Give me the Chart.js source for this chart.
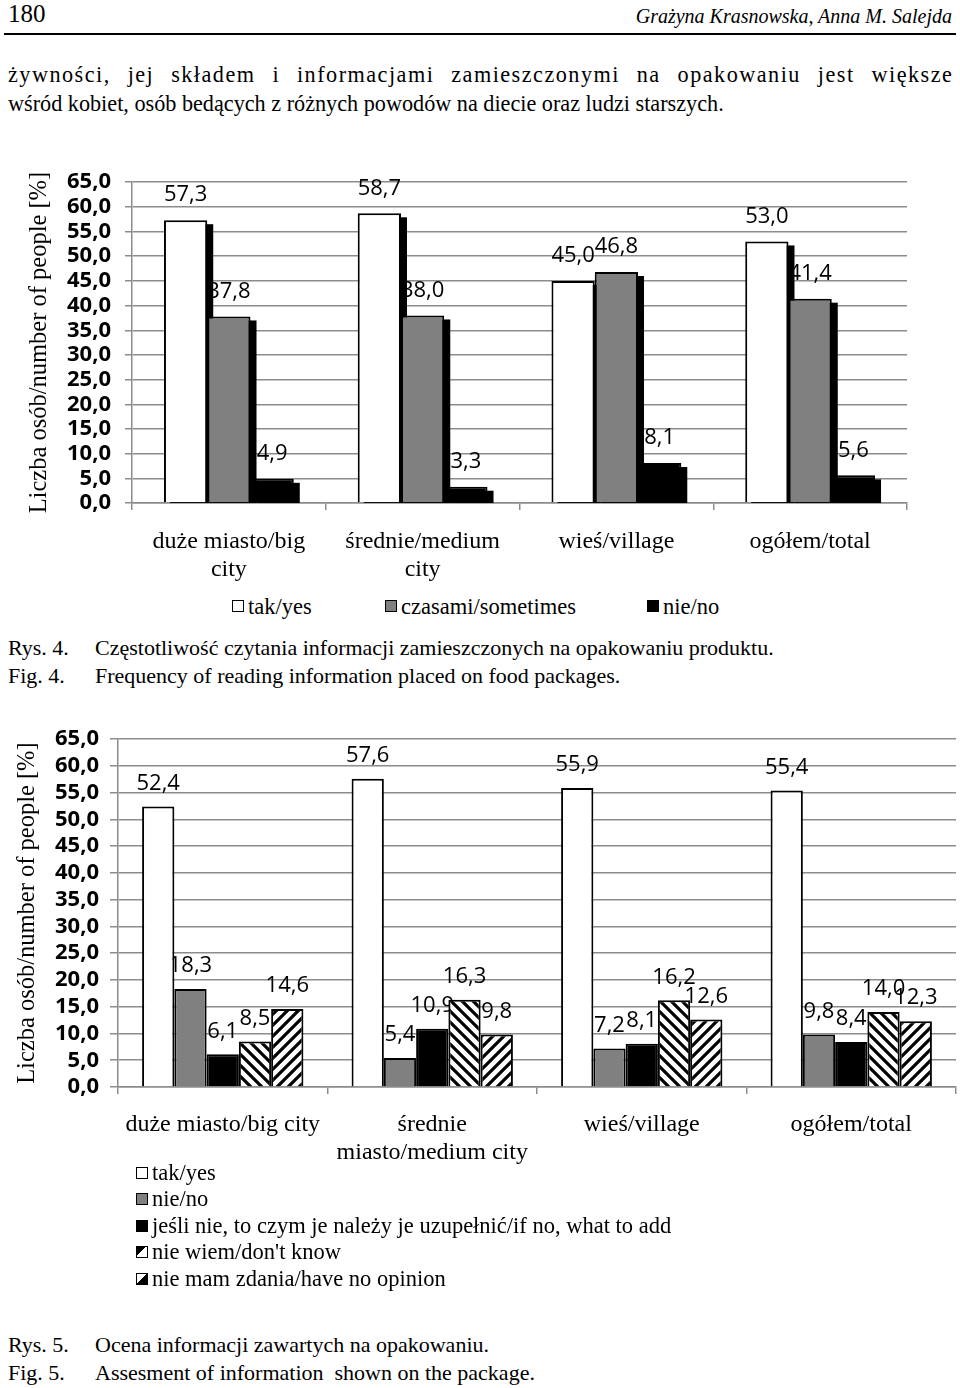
<!DOCTYPE html>
<html>
<head>
<meta charset="utf-8">
<script src="https://cdn.jsdelivr.net/npm/chart.js@4.4.0/dist/chart.umd.min.js"></script>
<style>
  body { margin: 0; background: #fff; }
  #page { position: relative; width: 960px; height: 1388px; overflow: hidden; font-family: "Liberation Serif", serif; color: #000; }
  .t { position: absolute; white-space: pre; line-height: 28px; }
  .box { position: absolute; width: 10px; height: 10px; border: 1.5px solid #000; }
  .chartBox { position: absolute; left: 0; width: 960px; }
  .para { position: absolute; left: 8px; font-size: 24px; line-height: 28px; transform: scaleX(0.925); transform-origin: 0 0; white-space: pre; }
</style>
</head>
<body>
<div id="page">
  <div class="t" style="left:8px;top:0px;font-size:25px;">180</div>
  <div class="t" style="right:8px;top:2px;font-size:20px;font-style:italic;">Grażyna Krasnowska, Anna M. Salejda</div>
  <div style="position:absolute;left:4px;top:33px;width:952px;height:2px;background:#000;"></div>
  <div class="para" style="top:60px;width:1022px;letter-spacing:1.6px;text-align:justify;text-align-last:justify;white-space:normal;">żywności, jej składem i informacjami zamieszczonymi na opakowaniu jest większe</div>
  <div class="para" style="top:89px;">wśród kobiet, osób bedących z różnych powodów na diecie oraz ludzi starszych.</div>

  <div class="chartBox" style="top:155px;height:435px;"><canvas id="chart1"></canvas></div>
  <div id="legend1"></div>

  <div class="t" style="left:8px;top:634px;font-size:22px;">Rys. 4.</div>
  <div class="t" style="left:95px;top:634px;font-size:22px;">Częstotliwość czytania informacji zamieszczonych na opakowaniu produktu.</div>
  <div class="t" style="left:8px;top:662px;font-size:22px;">Fig. 4.</div>
  <div class="t" style="left:95px;top:662px;font-size:22px;">Frequency of reading information placed on food packages.</div>

  <div class="chartBox" style="top:715px;height:459px;"><canvas id="chart2"></canvas></div>
  <div id="legend2"></div>

  <div class="t" style="left:8px;top:1331px;font-size:22px;">Rys. 5.</div>
  <div class="t" style="left:95px;top:1331px;font-size:22px;">Ocena informacji zawartych na opakowaniu.</div>
  <div class="t" style="left:8px;top:1359px;font-size:22px;">Fig. 5.</div>
  <div class="t" style="left:95px;top:1359px;font-size:22px;">Assesment of information  shown on the package.</div>
</div>

<script>
// Rys. 4 data
const cats1 = [['duże miasto/big', 'city'], ['średnie/medium', 'city'], 'wieś/village', 'ogółem/total'];
const series1 = ['tak/yes', 'czasami/sometimes', 'nie/no'];
const yes1 = [57.3, 58.7, 45.0, 53.0];
const sometimes1 = [37.8, 38.0, 46.8, 41.4];
const no1 = [4.9, 3.3, 8.1, 5.6];

// Rys. 5 data
const cats2 = ['duże miasto/big city', ['średnie', 'miasto/medium city'], 'wieś/village', 'ogółem/total'];
const series2 = ['tak/yes', 'nie/no', 'jeśli nie, to czym je należy je uzupełnić/if no, what to add', "nie wiem/don't know", 'nie mam zdania/have no opinion'];
const yes2 = [52.4, 57.6, 55.9, 55.4];
const no2 = [18.3, 5.4, 7.2, 9.8];
const whatToAdd2 = [6.1, 10.9, 8.1, 8.4];
const dontKnow2 = [8.5, 16.3, 16.2, 14.0];
const noOpinion2 = [14.6, 9.8, 12.6, 12.3];

const yMin = 0, yMax = 65, yStep = 5;

const fmt = v => v.toFixed(1).replace('.', ',');
const GRID = '#8c8c8c';
const SERIF = 'Liberation Serif';
const SANS = 'Open Sans';

const makeStripes = (dir) => {
    const s = 11;
    const c = document.createElement('canvas');
    c.width = c.height = s;
    const g = c.getContext('2d');
    g.fillStyle = '#fff';
    g.fillRect(0, 0, s, s);
    g.strokeStyle = '#000';
    g.lineWidth = 3.2;
    g.beginPath();
    if (dir === 'back') {
        g.moveTo(0, 0); g.lineTo(s, s);
        g.moveTo(0, -s); g.lineTo(2 * s, s);
        g.moveTo(-s, 0); g.lineTo(s, 2 * s);
    } else {
        g.moveTo(0, s); g.lineTo(s, 0);
        g.moveTo(-s, s); g.lineTo(s, -s);
        g.moveTo(0, 2 * s); g.lineTo(2 * s, 0);
    }
    g.stroke();
    return g.createPattern(c, 'repeat');
};

// labels first, then (optional) shadows, then Chart.js paints the bars on top
const valueLabels = {
    id: 'valueLabels',
    beforeDatasetsDraw(chart, args, opts) {
        const ctx = chart.ctx;
        const area = chart.chartArea;
        ctx.save();
        ctx.font = opts.font;
        ctx.fillStyle = '#000';
        ctx.textAlign = 'center';
        ctx.textBaseline = 'middle';
        chart.data.datasets.forEach((ds, i) => {
            chart.getDatasetMeta(i).data.forEach((bar, j) => {
                ctx.fillText(fmt(ds.data[j]), bar.x, bar.y - opts.offset);
            });
        });
        if (opts.shadow) {
            ctx.beginPath();
            ctx.rect(area.left, area.top, area.right - area.left, area.bottom - area.top);
            ctx.clip();
            ctx.fillStyle = '#000';
            chart.data.datasets.forEach((ds, i) => {
                chart.getDatasetMeta(i).data.forEach(bar => {
                    const p = bar.getProps(['x', 'y', 'base', 'width'], true);
                    ctx.fillRect(p.x - p.width / 2 + opts.shadow.dx, p.y + opts.shadow.dy, p.width, p.base - p.y);
                });
            });
        }
        ctx.restore();
    }
};

const makeScales = (yWidth, titlePad, tickLen, tickPad, xLabelPad) => ({
    x: {
        grid: { display: true, drawOnChartArea: false, drawTicks: true, tickLength: 7, color: GRID, lineWidth: 1.5 },
        border: { display: true, color: GRID, width: 1.5 },
        ticks: { color: '#000', padding: xLabelPad, maxRotation: 0, autoSkip: false, font: { family: SERIF, size: 24, lineHeight: 1.17 } },
        afterFit: s => { s.height = 87; }
    },
    y: {
        min: yMin, max: yMax,
        grid: { color: GRID, lineWidth: 1.5, drawTicks: true, tickLength: tickLen },
        border: { display: true, color: GRID, width: 1.5 },
        ticks: { stepSize: yStep, autoSkip: false, padding: tickPad, color: '#000', font: { family: SANS, size: 22, weight: 'bold' }, callback: v => fmt(v) },
        title: { display: true, text: 'Liczba osób/number of people [%]', color: '#000', font: { family: SERIF, size: 24.5 }, padding: { top: titlePad, bottom: 0 } },
        afterFit: s => { s.width = yWidth; }
    }
});

const initChart1 = () => {
    const colors = ['#fff', '#808080', '#000'];
    const values = [yes1, sometimes1, no1];
    new Chart(document.getElementById('chart1').getContext('2d'), {
        type: 'bar',
        data: {
            labels: cats1,
            datasets: series1.map((label, i) => ({
                label,
                data: values[i],
                backgroundColor: colors[i],
                borderColor: '#000',
                borderWidth: 2,
                categoryPercentage: 0.67,
                barPercentage: 1.0,
            }))
        },
        options: {
            responsive: true,
            maintainAspectRatio: false,
            animation: false,
            layout: { padding: { top: 16, right: 53, left: 0, bottom: 0 } },
            plugins: {
                legend: { display: false },
                tooltip: { enabled: false },
                valueLabels: { font: '22px "Open Sans"', offset: 25, shadow: { dx: 6, dy: 4 } }
            },
            scales: makeScales(132, 25, 7, 14, 18)
        },
        plugins: [valueLabels]
    });

    const legendX = [232, 385, 647];
    document.getElementById('legend1').innerHTML = series1.map((s, i) =>
        `<div class="box" style="left:${legendX[i]}px;top:600px;background:${colors[i]}"></div>` +
        `<div class="t" style="left:${legendX[i] + 16}px;top:593px;font-size:22.5px;">${s}</div>`).join('');
};

const initChart2 = () => {
    const colors = ['#fff', '#808080', '#000', makeStripes('back'), makeStripes('fwd')];
    const values = [yes2, no2, whatToAdd2, dontKnow2, noOpinion2];
    new Chart(document.getElementById('chart2').getContext('2d'), {
        type: 'bar',
        data: {
            labels: cats2,
            datasets: series2.map((label, i) => ({
                label,
                data: values[i],
                backgroundColor: colors[i],
                borderColor: '#000',
                borderWidth: 2,
                categoryPercentage: 0.77,
                barPercentage: 1.0,
            }))
        },
        options: {
            responsive: true,
            maintainAspectRatio: false,
            animation: false,
            layout: { padding: { top: 24, right: 4, left: 0, bottom: 0 } },
            plugins: {
                legend: { display: false },
                tooltip: { enabled: false },
                valueLabels: { font: '22px "Open Sans"', offset: 23 }
            },
            scales: makeScales(118, 13, 8, 11, 17)
        },
        plugins: [valueLabels]
    });

    const css = ['#fff', '#808080', '#000',
        'linear-gradient(135deg,#000 42%,#fff 42%)',
        'linear-gradient(135deg,#fff 50%,#000 50%)'];
    const rowY = [1173, 1199, 1226, 1252, 1279];
    document.getElementById('legend2').innerHTML = series2.map((s, i) =>
        `<div class="box" style="left:136px;top:${rowY[i] - 6}px;background:${css[i]}"></div>` +
        `<div class="t" style="left:152px;top:${rowY[i] - 14}px;font-size:22.5px;">${s}</div>`).join('');
};

document.fonts.load('22px "Open Sans"').then(() => document.fonts.load('bold 22px "Open Sans"')).then(() => {
    initChart1();
    initChart2();
});
</script>
</body>
</html>
